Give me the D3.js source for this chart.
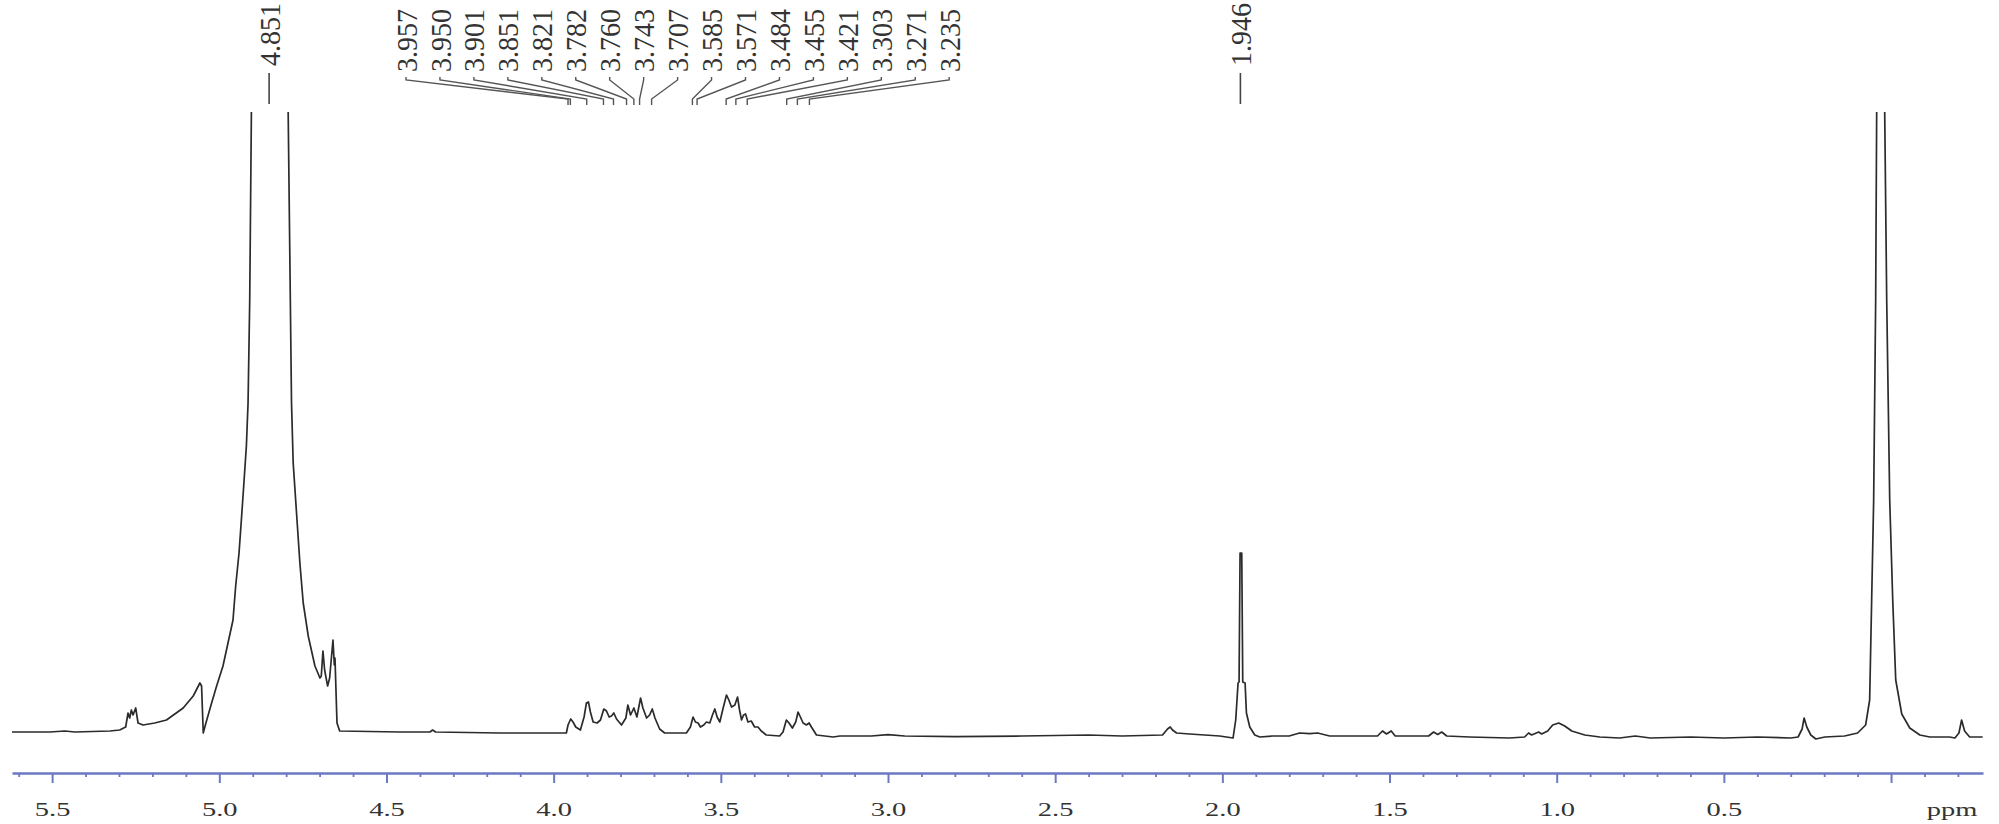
<!DOCTYPE html>
<html><head><meta charset="utf-8">
<script src="https://cdn.jsdelivr.net/npm/d3@7"></script>
<style>body{margin:0;background:#fff;overflow:hidden}</style>
</head><body><svg id="chart" width="1999" height="824"></svg>
<script>
// ---- data (ppm, relative intensity) ----
const spectrumPoints = [
 [5.620,0.5],[5.507,0.5],[5.462,1.0],[5.432,0.5],[5.327,1.0],[5.298,1.5],[5.280,3],
 [5.273,10],[5.268,7.5],[5.263,11.5],[5.258,9],[5.250,12.5],[5.243,5],[5.228,4],
 [5.193,5],[5.158,6.5],[5.108,12.5],[5.078,18.5],[5.058,25],[5.053,23.5],[5.048,0],
 [5.040,5],[5.023,15],[5.008,23.5],[4.989,33.5],[4.974,45],[4.959,56.5],[4.951,73.5],
 [4.941,90],[4.934,106.5],[4.927,123.5],[4.919,143.5],[4.914,165],[4.909,216.5],[4.904,310.5],
 [4.851,1500],
 [4.794,310.5],[4.784,165],[4.779,135],[4.769,110],[4.759,85],[4.749,65],[4.734,48.5],
 [4.714,33.5],[4.699,27.5],[4.695,28.5],[4.690,41],[4.685,31.5],[4.676,23.5],[4.670,27.5],
 [4.660,46.5],[4.656,34],[4.654,37.5],[4.648,5],[4.640,1],
 [4.460,0.5],[4.370,0.5],[4.362,1.5],[4.353,0.5],[4.162,0],[3.982,0],
 [3.962,0],[3.957,4],[3.949,7],[3.942,5.5],[3.934,3],[3.920,1.5],[3.909,8],[3.902,15],
 [3.896,15.5],[3.890,10.5],[3.882,5.5],[3.870,5],[3.860,6.5],[3.850,12],[3.842,11],
 [3.834,8],[3.827,8.5],[3.820,10],[3.812,7],[3.797,4],[3.784,7.5],[3.778,14],[3.770,9],
 [3.760,12.5],[3.751,8],[3.740,17.5],[3.733,12.5],[3.722,7.5],[3.713,9],[3.705,12],
 [3.697,7.5],[3.683,2],[3.668,0],[3.603,0],[3.591,3],[3.583,8],[3.576,5.5],[3.568,5],
 [3.561,3],[3.551,4],[3.543,5.5],[3.533,5],[3.525,9],[3.518,12],[3.511,8],[3.503,5.5],
 [3.493,12.5],[3.483,19],[3.476,16.5],[3.468,13],[3.458,14],[3.450,18],[3.444,11.5],
 [3.438,6.5],[3.432,9],[3.426,9.5],[3.419,5.5],[3.409,6],[3.399,3],[3.389,3],[3.379,1],
 [3.364,-1],[3.324,-1.5],[3.314,0.5],[3.304,6.5],[3.296,5],[3.286,2.5],[3.276,5.5],
 [3.269,10.5],[3.262,8],[3.254,5],[3.244,4],[3.236,5],[3.229,3],[3.214,-1],[3.164,-2],
 [3.144,-1.5],[3.050,-1.5],[3.000,-0.8],[2.950,-1.5],[2.800,-1.8],[2.600,-1.5],[2.400,-1.0],
 [2.300,-1.5],[2.179,-1],[2.164,2],[2.156,3],[2.149,1.5],[2.137,0],[2.098,-0.5],[2.008,-1.5],
 [1.968,-2.5],[1.960,6.5],[1.953,25],[1.950,25.5],[1.947,90],[1.942,90],[1.939,25.5],
 [1.932,25],[1.928,10],[1.918,3],[1.903,-1],[1.888,-2],
 [1.850,-1.5],[1.800,-1.5],[1.769,0],[1.739,-0.3],[1.715,0],[1.679,-1.5],[1.600,-1.5],
 [1.536,-1.5],[1.521,1],[1.509,-0.5],[1.495,1],[1.483,-1.5],[1.383,-1.5],[1.368,0.5],
 [1.356,-0.7],[1.344,0.5],[1.329,-1.5],[1.261,-2],[1.141,-2.5],[1.096,-2],[1.084,0],
 [1.075,-1],[1.054,0.5],[1.045,-0.5],[1.027,1],[1.012,4],[0.994,5],[0.976,3.5],[0.955,1],
 [0.916,-1],[0.871,-2],[0.812,-2.5],[0.765,-1.5],[0.720,-2.5],[0.600,-2],[0.500,-2.5],
 [0.400,-2],[0.300,-2.5],[0.278,-2],[0.266,2],[0.260,7.5],[0.252,3],[0.240,-1],[0.225,-3],
 [0.198,-2],[0.139,-1.5],[0.100,0],[0.076,4],[0.064,16.5],[0.058,66.5],[0.052,116.5],
 [0.046,216.5],[0.043,310.5],[0.031,1500],[0.019,310.5],[0.013,216.5],[0.004,116.5],
 [-0.005,66.5],[-0.014,26.5],[-0.032,9.5],[-0.056,2.5],[-0.086,-1],[-0.116,-2],
 [-0.175,-2],[-0.191,-2.5],[-0.203,0],[-0.211,6.5],[-0.220,1],[-0.235,-2],[-0.274,-2]
];
const majorTickValues = [5.5,5.0,4.5,4.0,3.5,3.0,2.5,2.0,1.5,1.0,0.5,0.0];
const majorTickLabels = ["5.5","5.0","4.5","4.0","3.5","3.0","2.5","2.0","1.5","1.0","0.5",""];
const axisUnit = "ppm";
const singlePeakLabels = ["4.851","1.946"];
const groupPeakLabels = ["3.957","3.950","3.901","3.851","3.821","3.782","3.760","3.743","3.707",
  "3.585","3.571","3.484","3.455","3.421","3.303","3.271","3.235"];

// ---- layout ----
const svg = d3.select("#chart");
const x = d3.scaleLinear().domain([5.62,-0.275]).range([12,1983]);
const y = d3.scaleLinear().domain([0,310]).range([733,113]);
const axisY = 773;
const serif = "'Liberation Serif','Times New Roman',serif";

svg.append("defs").append("clipPath").attr("id","plotClip")
  .append("rect").attr("x",0).attr("y",112).attr("width",1999).attr("height",650);

// spectrum
svg.append("path")
  .datum(spectrumPoints)
  .attr("clip-path","url(#plotClip)")
  .attr("fill","none")
  .attr("stroke","#2b2b2b")
  .attr("stroke-width",1.7)
  .attr("stroke-linejoin","round")
  .attr("d", d3.line().x(d=>x(d[0])).y(d=>y(d[1])));

// axis
const axisColor = "#6b78c4";
const minorTicks = d3.range(-2,57).map(i=>i/10).filter(v=>Math.abs(v*2-Math.round(v*2))>1e-6);
const gMinor = svg.append("g").attr("transform",`translate(0,${axisY})`)
  .call(d3.axisBottom(x).tickValues(minorTicks).tickSize(4).tickSizeOuter(0).tickFormat(""));
const gMajor = svg.append("g").attr("transform",`translate(0,${axisY})`)
  .call(d3.axisBottom(x).tickValues(majorTickValues).tickSize(10).tickSizeOuter(0)
    .tickFormat((d,i)=>majorTickLabels[i]));
gMinor.select(".domain").attr("stroke",axisColor).attr("stroke-width",2.6);
gMajor.select(".domain").remove();
gMinor.selectAll(".tick line").attr("stroke",axisColor).attr("stroke-width",1.8);
gMajor.selectAll(".tick line").attr("stroke",axisColor).attr("stroke-width",2);
gMajor.selectAll(".tick text")
  .attr("y",43).attr("dy",null)
  .attr("transform","scale(1.5,1)")
  .attr("fill","#333")
  .style("font-family",serif).style("font-size","19px");
svg.append("text").text(axisUnit)
  .attr("transform",`translate(1952,${axisY+43}) scale(1.5,1)`)
  .attr("text-anchor","middle").attr("fill","#333")
  .style("font-family",serif).style("font-size","19px");

// peak labels: single
const labelColor = "#333";
singlePeakLabels.forEach(lbl=>{
  const px = x(+lbl);
  svg.append("line").attr("x1",px).attr("x2",px).attr("y1",73).attr("y2",104)
    .attr("stroke","#444").attr("stroke-width",1.6);
  svg.append("text").text(lbl)
    .attr("transform",`translate(${px},66) rotate(-90) scale(1,1.08)`)
    .attr("dy","0.35em").attr("fill",labelColor)
    .style("font-family",serif).style("font-size","28px");
});

// peak labels: group with connectors
const groupStart = 406, groupStep = 33.95;
groupPeakLabels.forEach((lbl,i)=>{
  const lx = groupStart + i*groupStep;
  const px = x(+lbl);
  svg.append("path")
    .attr("d",`M${lx},77 L${lx},80 L${px},99 L${px},105`)
    .attr("fill","none").attr("stroke","#555").attr("stroke-width",1.4);
  svg.append("text").text(lbl)
    .attr("transform",`translate(${lx},72) rotate(-90) scale(1,1.08)`)
    .attr("dy","0.35em").attr("fill",labelColor)
    .style("font-family",serif).style("font-size","28px");
});
</script></body></html>
